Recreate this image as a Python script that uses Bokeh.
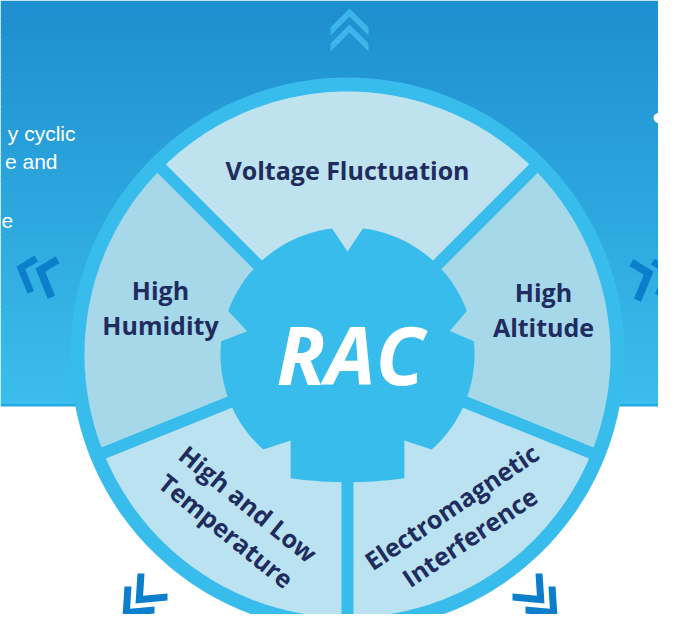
import numpy as np
from bokeh.plotting import figure
from bokeh.models import Range1d
from bokeh.core.properties import value
from bokeh.embed import file_html
from bokeh.resources import INLINE

# ---------------- data ----------------
center_label = "RAC"
segment_names = ["Voltage Fluctuation", "High Humidity", "High and Low Temperature",
                 "Electromagnetic Interference", "High Altitude"]
segment_start_deg = [45, 135, 202, 270, 338]
segment_end_deg = [135, 202, 270, 338, 405]
segment_colors = ["#BEE2EE", "#A6D8EA", "#BBE2F0", "#BBE2F0", "#A6D8EA"]
segment_lines = [["Voltage Fluctuation"], ["High", "Humidity"], ["High and Low", "Temperature"],
                 ["Electromagnetic", "Interference"], ["High", "Altitude"]]
side_text_left = ["y cyclic", "e and", "e"]

# ---------------- layout / style ----------------
CX, CY = 347.0, 354.0
R_OUT, R_SEG, R_HUB, R_NOTCH = 277.0, 263.0, 127.0, 103.0
RING = "#38BCEB"
NAVY = "#202C5E"

p = figure(width=658, height=614, x_range=Range1d(0, 658), y_range=Range1d(614, 0),
           output_backend="svg", toolbar_location=None, min_border=0,
           x_axis_location=None, y_axis_location=None)
p.grid.visible = False
p.outline_line_color = None
p.background_fill_color = "white"
p.border_fill_color = "white"


def polar(a, r):
    t = np.radians(a)
    return CX + r * np.cos(t), CY - r * np.sin(t)


# background gradient (upper band)
n = 90
edges = np.linspace(0, 405, n + 1)
c0 = np.array([0x1D, 0x8E, 0xCF])
c1 = np.array([0x3B, 0xBE, 0xEC])
cols = []
for i in range(n):
    t = (i + 0.5) / n
    c = np.round(c0 + (c1 - c0) * t).astype(int)
    cols.append("#%02x%02x%02x" % tuple(c))
p.quad(left=0, right=674, top=edges[:-1], bottom=np.minimum(edges[1:] + 0.7, 404),
       fill_color=cols, line_color=None)
p.quad(left=0, right=674, top=[403.5], bottom=[406], fill_color="#22A9E2", line_color=None)

# white dot
p.scatter(x=[658], y=[117.5], size=10, fill_color="white", line_color=None)

# outer ring disc
a = np.linspace(0, 360, 361)
ox, oy = polar(a, R_OUT)
p.patch(ox, oy, fill_color=RING, line_color=None)

# sectors
sx, sy = [], []
for a0, a1 in zip(segment_start_deg, segment_end_deg):
    aa = np.linspace(a0, a1, 90)
    px, py = polar(aa, R_SEG)
    sx.append([CX] + list(px))
    sy.append([CY] + list(py))
p.patches(sx, sy, fill_color=segment_colors, line_color=None)

# separators
bx, by = polar(np.array(segment_start_deg, dtype=float), R_SEG + 6)
p.segment(x0=[CX] * len(bx), y0=[CY] * len(by), x1=bx, y1=by, line_width=12,
          line_color=RING, line_cap="butt")

# hub (gear-like)
hub = []


def arc(a0, a1, r, k=24):
    for ang in np.linspace(a0, a1, k):
        hub.append(polar(ang, r))


hw = 7.0
arc(13 + hw, 90 - hw, R_HUB)
hub.append(polar(90, R_NOTCH))
arc(90 + hw, 167 - hw, R_HUB)
hub.append(polar(167, R_NOTCH))
arc(167 + hw, 228.5, R_HUB)
lt = polar(236.5, R_NOTCH)
hub.append(lt)
rt = polar(303.5, R_NOTCH)
big_r = 410.0
big_cy = 481.7 - big_r
for xx in np.linspace(lt[0], rt[0], 30):
    hub.append((xx, big_cy + np.sqrt(big_r ** 2 - (xx - CX) ** 2)))
hub.append(rt)
arc(311.5, 360 + 13 - hw, R_HUB)
hub.append(polar(13, R_NOTCH + 2))
p.patch([h[0] for h in hub], [h[1] for h in hub], fill_color=RING, line_color=None)


# chevrons
def place(tmpl, ax, ay, mirror=None, scale=1.0):
    xs = [ax + dx * scale for dx, dy in tmpl]
    ys = [ay + dy * scale for dx, dy in tmpl]
    if mirror is not None:
        xs = [mirror - x for x in xs]
    return xs, ys


up_tmpl = [(-19, 19), (0, 0), (19, 19), (19, 27), (0, 8), (-19, 27)]
left_tmpl = [(0, 0), (18, -11), (21.6, -5), (8.7, 2.85), (17.5, 24.4), (11, 27)]
corner_tmpl = [(0, 0), (2, -30), (9, -30), (7.6, -7.7), (32, -10), (32, -3)]

cx_list, cy_list = [], []
for ay in (8, 24):
    xs, ys = place(up_tmpl, 349, ay)
    cx_list.append(xs); cy_list.append(ys)
p.patches(cx_list, cy_list, fill_color="#3CB6EA", line_color=None)

dx_list, dy_list = [], []
for ax, ay, sc in ((16, 266, 1.0), (35, 268, 1.12)):
    xs, ys = place(left_tmpl, ax, ay, scale=sc)
    dx_list.append(xs); dy_list.append(ys)
    xs, ys = place(left_tmpl, ax, ay + 3, mirror=688, scale=sc)
    dx_list.append(xs); dy_list.append(ys)
for ax, ay in ((135, 603), (122, 616)):
    xs, ys = place(corner_tmpl, ax, ay)
    dx_list.append(xs); dy_list.append(ys)
    xs, ys = place(corner_tmpl, ax, ay, mirror=679)
    dx_list.append(xs); dy_list.append(ys)
p.patches(dx_list, dy_list, fill_color="#0B7FCC", line_color=None)

# labels
lab_font = value("Open Sans")
FS = "25px"
common = dict(text_font=lab_font, text_font_style="bold", text_font_size=FS,
              text_color=NAVY, text_align="center", text_baseline="middle")
# Voltage Fluctuation
p.text(x=[347], y=[169], text=[segment_lines[0][0]], **common)
# High Humidity (left)
p.text(x=[160, 160], y=[289, 324], text=segment_lines[1], **common)
# High Altitude (right)
p.text(x=[543, 543], y=[291, 326], text=segment_lines[4], **common)
# High and Low Temperature (rotated clockwise)
p.text(x=[248, 226], y=[503, 530], text=segment_lines[2], angle=np.radians(-39), **common)
# Electromagnetic Interference (rotated counter-clockwise)
p.text(x=[451, 469], y=[506, 536], text=segment_lines[3], angle=np.radians(34), **common)

# center label
p.text(x=[350], y=[353], text=[center_label], text_font=lab_font, text_font_style="bold italic",
       text_font_size="80px", text_color="white", text_align="center", text_baseline="middle")

# partial side text (visible fragments of a cut-off paragraph)
p.text(x=[75, 57], y=[133, 161], text=side_text_left[:2], text_font=value("Liberation Sans"),
       text_font_size="21px", text_color="white", text_align="right", text_baseline="middle")
p.text(x=[1], y=[220], text=side_text_left[2:], text_font=value("Liberation Sans"),
       text_font_size="21px", text_color="white", text_align="left", text_baseline="middle")

open("out.html", "w").write(file_html(p, INLINE))
